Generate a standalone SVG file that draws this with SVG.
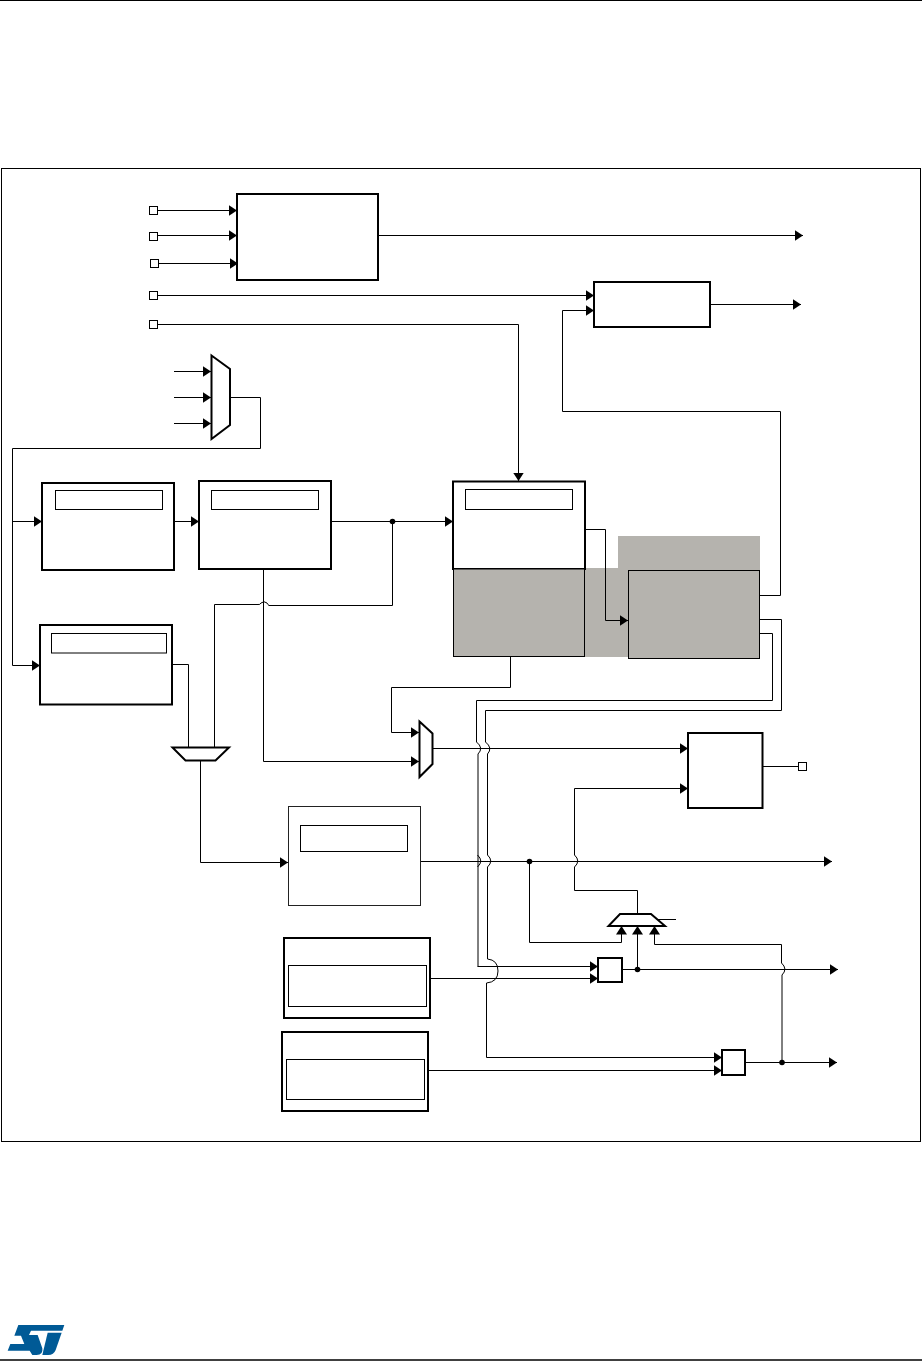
<svg xmlns="http://www.w3.org/2000/svg" width="922" height="1361" viewBox="0 0 922 1361">
<style>
.n{fill:#fff;stroke:#000;stroke-width:2}
.i{fill:#fff;stroke:#000;stroke-width:1}
.g{fill:#b5b3ae;stroke:#000;stroke-width:1}
.c{fill:none;stroke:#000;stroke-width:1}
.a{marker-end:url(#ah)}
.d{fill:#000}
</style>
<defs>
<marker id="ah" markerUnits="userSpaceOnUse" markerWidth="9" markerHeight="12" refX="8.500" refY="6" orient="auto"><path d="M0 .5L8.500 6L0 11.500z" fill="#000"/></marker>
</defs>
<rect width="922" height="1361" fill="#fff"/>
<path d="M0 .5H922" class="c"/>
<path d="M0 1360H922" fill="none" stroke="#000" stroke-width="1.500"/>
<rect id="frame" x="1.500" y="168.500" width="919" height="973" class="c"/>
<path id="shade" d="M618 536H760V657H453V568H618z" fill="#b5b3ae"/>
<g id="connectors">
<path class="c a" d="M157 210.500H237"/>
<path class="c a" d="M157 235.500H237"/>
<path class="c a" d="M158 263.500H238"/>
<path class="c a" d="M378 235.500H803"/>
<path class="c a" d="M157 295.500H594"/>
<path class="c a" d="M157 324.500H518.500V481"/>
<path class="c a" d="M710 304.500H801"/>
<path class="c a" d="M760 595.500H780.500V411.500H562.500V310.500H594"/>
<path class="c a" d="M174 371.500H211"/>
<path class="c a" d="M174 397.500H211"/>
<path class="c a" d="M174 423.500H211"/>
<path class="c" d="M230 397.500H260.500V448.500H12.500V665.500"/>
<path class="c a" d="M12.500 521.500H42"/>
<path class="c a" d="M12.500 665.500H40"/>
<path class="c a" d="M174 521.500H199"/>
<path class="c a" d="M331 521.500H453"/>
<path class="c" d="M392.500 521.500V605.500H269Q268 605 267 603Q264 600.500 261 603Q260 605 258 604.500H214.500V747"/>
<path class="c a" d="M263.500 569V761.500H419"/>
<path class="c" d="M172 664.500H188.500V747"/>
<path class="c a" d="M200.500 760V862.500H288"/>
<path class="c a" d="M510.500 657V687.500H391.500V732.500H419"/>
<path class="c a" d="M433 748.500H688"/>
<path class="c a" d="M421 861.500H832"/>
<path class="c a" d="M585 529.500H605.500V620.500H628"/>
<path class="c" d="M762 766.500H798"/>
<path class="c" d="M760 633.500H772.500V700.500H476.500V742Q484 748 478 754V966.500"/>
<path class="c a" d="M477.500 966.500H598"/>
<path class="c" d="M760 619.500H781.500V710.500H485.500V742Q493 748 487.500 754V855Q494 861 487.500 867V959Q498 960 498 971Q498 982 486.500 983V1057.500"/>
<path class="c" d="M477.500 855Q484 861 477.500 867"/>
<path class="c a" d="M486.500 1057.500H722"/>
<path class="c a" d="M430 978.500H598"/>
<path class="c a" d="M428 1070.500H722"/>
<path class="c a" d="M637.500 914V890.500H574.500V867Q581 861 574.500 855V788.500H688"/>
<path class="c a" d="M529.500 861.500V942.500H621.500V926"/>
<path class="c a" d="M637.500 969.500V926"/>
<path class="c a" d="M782 1062.500V975Q788 969 781.500 963V944.500H654.500V926"/>
<path class="c" d="M657 919.500H676"/>
<path class="c a" d="M622 969.500H838"/>
<path class="c a" d="M745 1062.500H837"/>
<circle class="d" cx="392.500" cy="521.500" r="2.800"/>
<circle class="d" cx="529.500" cy="861.500" r="2.800"/>
<circle class="d" cx="637.500" cy="969.500" r="2.800"/>
<circle class="d" cx="782" cy="1062.500" r="2.800"/>
</g>
<g id="p1"><rect x="149.500" y="206.500" width="8" height="8" class="i"/></g>
<g id="p2"><rect x="149.500" y="232.500" width="8" height="8" class="i"/></g>
<g id="p3"><rect x="150.500" y="259.500" width="8" height="8" class="i"/></g>
<g id="p4"><rect x="149.500" y="291.500" width="8" height="8" class="i"/></g>
<g id="p5"><rect x="149.500" y="320.500" width="8" height="8" class="i"/></g>
<g id="p6"><rect x="798.500" y="762.500" width="8" height="8" class="i"/></g>
<g id="top-box"><rect x="237" y="194" width="141" height="86" class="n"/></g>
<g id="box2"><rect x="594" y="282" width="116" height="45" class="n"/></g>
<g id="mux1"><path d="M211.500 355.500L230 369V425L211.500 439z" class="n"/></g>
<g id="boxA"><rect x="42" y="483" width="132" height="87" class="n"/><rect x="55.500" y="490.500" width="107" height="19" class="i"/></g>
<g id="boxB"><rect x="199" y="481" width="132" height="88" class="n"/><rect x="211.500" y="490.500" width="107" height="19" class="i"/></g>
<g id="boxC"><rect x="453" y="481.500" width="132" height="87.500" class="n"/><rect x="465.500" y="489.500" width="107" height="20" class="i"/></g>
<g id="boxC2"><rect x="453.500" y="569" width="131" height="87.500" class="g"/></g>
<g id="boxJ"><rect x="628.500" y="570.500" width="131" height="88" class="g"/></g>
<g id="boxD"><rect x="40" y="625" width="132" height="79.500" class="n"/><rect x="51.500" y="633.500" width="115" height="19.500" class="i"/></g>
<g id="mux3"><path d="M172.500 747.500H229L215.500 760.500H185.500z" class="n"/></g>
<g id="mux2"><path d="M419.500 721.500L432.500 733.500V764L419.500 777z" class="n"/></g>
<g id="boxI"><rect x="688" y="733" width="74.500" height="75" class="n"/></g>
<g id="boxE"><rect x="288.500" y="806.500" width="132" height="99" fill="#fff" stroke="#222" stroke-width="1"/><rect x="300.500" y="825.500" width="107" height="26" class="i"/></g>
<g id="mux4"><path d="M608.500 926H665L651 914H620z" class="n"/></g>
<g id="boxK"><rect x="284" y="938" width="146" height="80" class="n"/><rect x="288.500" y="965.500" width="138" height="41" class="i"/></g>
<g id="boxL"><rect x="282" y="1032" width="146" height="79" class="n"/><rect x="286.500" y="1059.500" width="138" height="40" class="i"/></g>
<g id="boxF"><rect x="598" y="958" width="24" height="24" class="n"/></g>
<g id="boxG"><rect x="722" y="1050" width="23" height="25" class="n"/></g>
<g id="logo" fill="#005a96" transform="translate(5 1320) scale(.3333)">
<path d="M40 15H178L172 32H78L72 45H98L112 85Q115 105 95 105H82L74 92H8L16 72H58L48 47H28z"/>
<path d="M128 38H170L152 90Q146 105 130 105H112z"/>
</g>
</svg>
